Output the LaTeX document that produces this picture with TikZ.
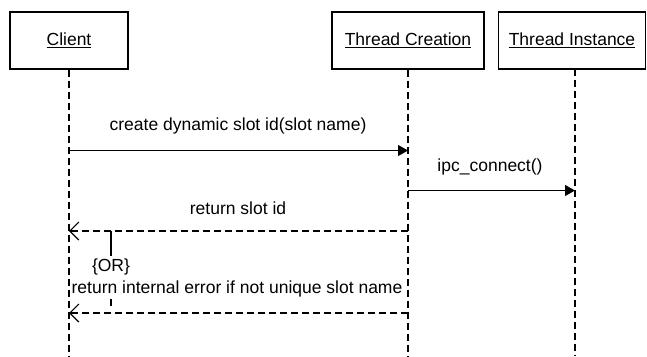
\documentclass[tikz,border=0pt]{standalone}
\usepackage{fontspec}
\setmainfont{Liberation Sans}
\usetikzlibrary{arrows.meta}
\begin{document}
\begin{tikzpicture}[x=1pt,y=-1pt,
  font=\fontsize{17.5}{20}\selectfont,
  actor/.style={draw,line width=1.3pt,minimum height=57pt,inner sep=0pt},
  lifeline/.style={line width=1.3pt,dash pattern=on 7pt off 4pt},
  call/.style={line width=1.2pt,-{Triangle[length=10pt,width=11pt]}},
  reply/.style={line width=1.2pt,dash pattern=on 7pt off 4pt,
    -{Straight Barb[length=9pt,width=18pt,line width=1.2pt]}},
  lbl/.style={inner sep=0pt,anchor=center}]
\useasboundingbox (0,0) rectangle (647,356);

% participants
\node[actor,minimum width=118pt] (client) at (69,40.5) {\underline{Client}};
\node[actor,minimum width=152pt] (creation) at (408,40.5) {\underline{Thread Creation}};
\node[actor,minimum width=147pt] (instance) at (572,40.5) {\underline{Thread Instance}};

% lifeline ends
\coordinate (clientEnd) at (69,356);
\coordinate (creationEnd) at (408,356);
\coordinate (instanceEnd) at (575,356);
\draw[lifeline] (client.south) -- (clientEnd);
\draw[lifeline] (creation.south) -- (creationEnd);
\draw[lifeline] (575,69) -- (instanceEnd);

% message anchors on the lifelines
\coordinate (c1) at (69,150.5);
\coordinate (t1) at (408,150.5);
\coordinate (t2) at (408,190.5);
\coordinate (i2) at (575,190.5);
\coordinate (t3) at (408,231);
\coordinate (c3) at (69,231);
\coordinate (t4) at (408,313);
\coordinate (c4) at (69,313);

\draw[call] (c1) -- (t1);
\node[lbl] (m1) at (238,126) {create dynamic slot id(slot name)};

\draw[call] (t2) -- (i2);
\node[lbl] (m2) at (490,167) {ipc\_connect()};

\draw[reply] (t3) -- (c3);
\node[lbl] (m3) at (238,208) {return slot id};

% alternative marker
\coordinate (orTop) at (111,231);
\coordinate (orBot) at (111,256);
\draw[line width=1.3pt] (orTop) -- (orBot);
\node[lbl] (or) at (111,267) {\{OR\}};
\node[lbl] (m4) at (237,289) {return internal error if not unique slot name};
\coordinate (stubTop) at (111,299);
\coordinate (stubBot) at (111,306);
\draw[line width=1.3pt] (stubTop) -- (stubBot);

\draw[reply] (t4) -- (c4);
\end{tikzpicture}
\end{document}
